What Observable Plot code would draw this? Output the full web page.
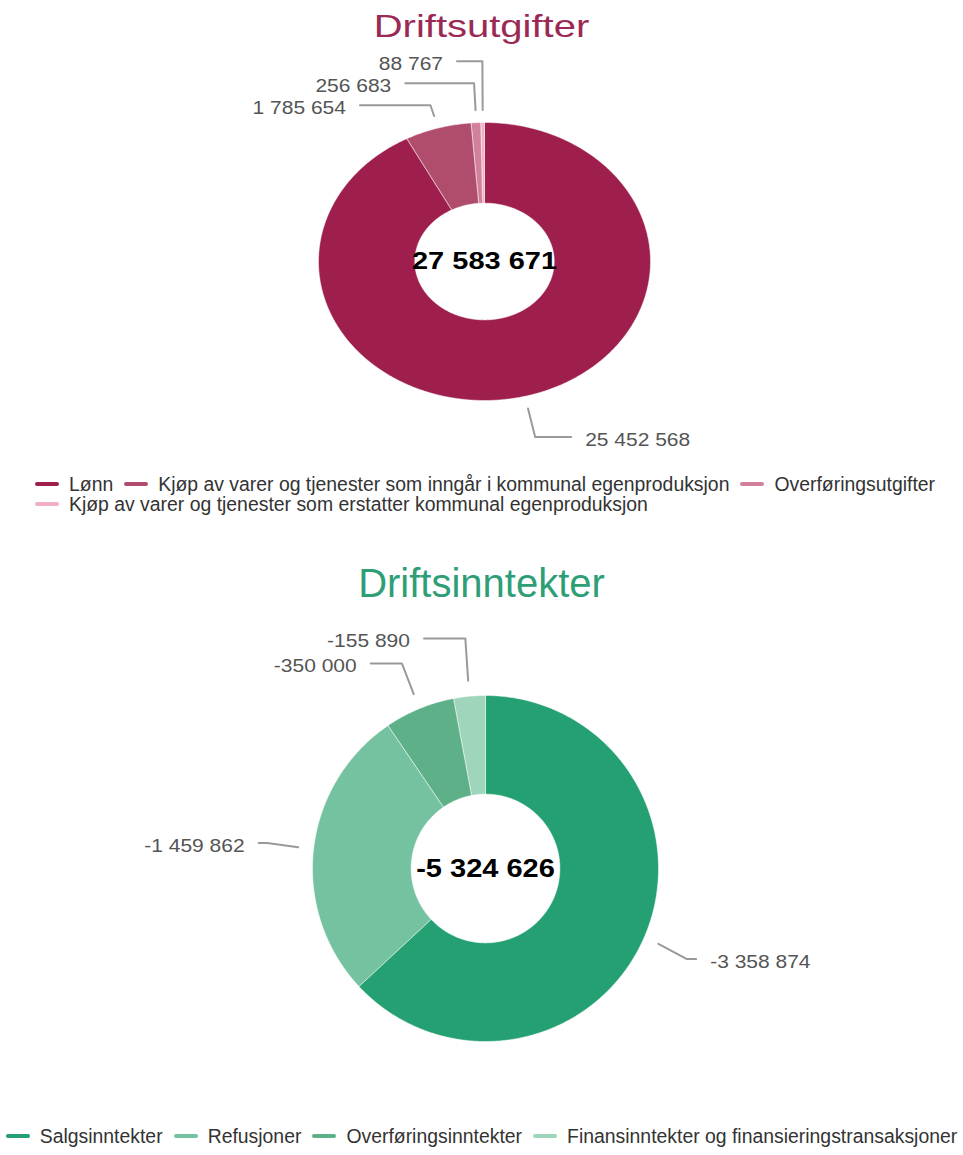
<!DOCTYPE html>
<html><head><meta charset="utf-8">
<script src="https://cdn.jsdelivr.net/npm/d3@7"></script>
<script src="https://cdn.jsdelivr.net/npm/@observablehq/plot@0.6"></script>
<style>
body{margin:0;background:#fff;font-family:"Liberation Sans",Arial,sans-serif;}
#page{position:relative;width:963px;height:1155px;overflow:hidden;background:#fff;}
.title{position:absolute;left:0;width:963px;text-align:center;font-size:40px;line-height:40px;white-space:nowrap;}
.chart{position:absolute;left:0;}
.legend{position:absolute;display:flex;font-size:19.4px;line-height:20px;color:#333;}
.item{display:flex;align-items:center;margin-right:11px;white-space:nowrap;}
.item:last-child{margin-right:0;}
.sw{width:24px;height:4px;border-radius:2px;margin-right:10px;flex:none;}
</style></head><body><div id="page"></div>
<script>
// ---------- data ----------
const expenseTitle = "Driftsutgifter";
const expenseCategories = ["Lønn", "Kjøp av varer og tjenester som inngår i kommunal egenproduksjon", "Overføringsutgifter", "Kjøp av varer og tjenester som erstatter kommunal egenproduksjon"];
const expenseValues = [25452568, 1785654, 256683, 88767];
const expenseTotal = 27583671;
const expenseColors = ["#9e1f4d", "#b04d6d", "#d2819d", "#f2b0c6"];

const incomeTitle = "Driftsinntekter";
const incomeCategories = ["Salgsinntekter", "Refusjoner", "Overføringsinntekter", "Finansinntekter og finansieringstransaksjoner"];
const incomeValues = [-3358874, -1459862, -350000, -155890];
const incomeTotal = -5324626;
const incomeColors = ["#24a072", "#74c29f", "#5eb089", "#9fd5ba"];

// ---------- helpers ----------
const fmt = d3.formatLocale({decimal: ",", thousands: " ", grouping: [3], currency: ["", ""], minus: "-"}).format(",d");
const page = document.getElementById("page");

function donut(o) {
  const {categories, values, colors, total, width, height, cx, cy, rx, ry, inner,
         labelR, textR, minDx, gapPx, labelSize, centerSize, textScaleY} = o;
  const sum = d3.sum(values, v => Math.abs(v));
  let acc = 0;
  const slices = categories.map((c, i) => {
    const a0 = acc / sum * 2 * Math.PI; acc += Math.abs(values[i]);
    const a1 = acc / sum * 2 * Math.PI;
    return {category: c, value: values[i], color: colors[i], a0, a1, mid: (a0 + a1) / 2};
  });
  const pt = (a, r) => [r * Math.sin(a), -r * Math.cos(a)];
  const polys = [];
  for (const s of slices) {
    const n = Math.max(2, Math.ceil((s.a1 - s.a0) / (Math.PI / 360)));
    for (let k = 0; k <= n; k++) { const [x, y] = pt(s.a0 + (s.a1 - s.a0) * k / n, 1); polys.push({key: s.category, color: s.color, x, y}); }
    for (let k = n; k >= 0; k--) { const [x, y] = pt(s.a0 + (s.a1 - s.a0) * k / n, inner); polys.push({key: s.category, color: s.color, x, y}); }
  }
  const labels = slices.map(s => ({...s, side: Math.sin(s.mid) >= 0 ? 1 : -1, y: -Math.cos(s.mid) * labelR}));
  const gap = gapPx / ry;
  for (const side of [1, -1]) {
    const L = labels.filter(l => l.side === side).sort((a, b) => a.y - b.y);
    for (let it = 0; it < 500; it++) {
      let moved = false;
      for (let i = 1; i < L.length; i++) {
        const ov = L[i - 1].y + gap - L[i].y;
        if (ov > 1e-6) { L[i - 1].y -= ov / 2; L[i].y += ov / 2; moved = true; }
      }
      if (!moved) break;
    }
  }
  const anchorR = 1.09, elbowMax = 1.27;
  const lines = [];
  for (const l of labels) {
    const [ax, ay] = pt(l.mid, anchorR);
    const c = -Math.cos(l.mid);
    let re = Math.abs(c) > 1e-3 ? l.y / c : elbowMax;
    if (!(re > anchorR + 0.03)) re = anchorR + 0.03;
    re = Math.min(re, elbowMax);
    const ex = re * Math.sin(l.mid);
    let tx = l.side * Math.max(minDx, Math.sqrt(Math.max(0, textR * textR - l.y * l.y)));
    let endX = tx - l.side * 14 / rx;
    if (l.side * (endX - ex) < 8 / rx) { endX = ex + l.side * 8 / rx; tx = endX + l.side * 14 / rx; }
    l.tx = tx;
    lines.push({key: l.category, x: ax, y: ay}, {key: l.category, x: ex, y: l.y}, {key: l.category, x: endX, y: l.y});
  }
  const labelStyle = {x: "tx", y: "y", text: d => fmt(d.value), fontSize: labelSize, fill: "#555", dy: 3};
  const svg = Plot.plot({
    width, height, margin: 0,
    x: {domain: [-cx / rx, (width - cx) / rx], range: [0, width], axis: null},
    y: {domain: [-cy / ry, (height - cy) / ry], range: [0, height], axis: null},
    color: {type: "identity"},
    style: {fontFamily: "'Liberation Sans', Arial, sans-serif", background: "transparent"},
    marks: [
      Plot.line(polys, {x: "x", y: "y", z: "key", fill: "color", stroke: "white", strokeWidth: 0.5, curve: "linear-closed"}),
      Plot.line(lines, {x: "x", y: "y", z: "key", stroke: "#9a9a9a", strokeWidth: 2}),
      Plot.text(labels.filter(l => l.side > 0), {...labelStyle, textAnchor: "start"}),
      Plot.text(labels.filter(l => l.side < 0), {...labelStyle, textAnchor: "end"}),
      Plot.text([total], {x: () => 0, y: () => 0, text: d => fmt(d), fontSize: centerSize, fontWeight: "bold", fill: "#000"})
    ]
  });
  svg.querySelectorAll("text").forEach(t => {
    const tr = t.getAttribute("transform");
    if (tr) t.setAttribute("transform", tr + ` scale(1,${textScaleY})`);
    else {
      const x = +t.getAttribute("x") || 0, y = +t.getAttribute("y") || 0;
      t.setAttribute("transform", `translate(${x},${y}) scale(1,${textScaleY}) translate(${-x},${-y})`);
    }
  });
  return svg;
}

function addTitle(text, top, color, scaleY) {
  const d = document.createElement("div");
  d.className = "title"; d.textContent = text;
  d.style.top = top + "px"; d.style.color = color;
  d.style.transformOrigin = "50% 34px";
  d.style.transform = `scale(1,${scaleY})`;
  page.appendChild(d);
}
function addLegend(cats, cols, style) {
  const d = document.createElement("div");
  d.className = "legend";
  Object.assign(d.style, style);
  cats.forEach((c, i) => {
    const it = document.createElement("div"); it.className = "item";
    const sw = document.createElement("span"); sw.className = "sw"; sw.style.background = cols[i];
    const tx = document.createElement("span"); tx.textContent = c;
    it.appendChild(sw); it.appendChild(tx); d.appendChild(it);
  });
  page.appendChild(d);
}
function addChart(svg, top) {
  const d = document.createElement("div"); d.className = "chart"; d.style.top = top + "px";
  d.appendChild(svg); page.appendChild(d);
}

// ---------- chart 1 ----------
addTitle(expenseTitle, 3, "#9a2a55", 0.8);
addChart(donut({categories: expenseCategories, values: expenseValues, colors: expenseColors, total: expenseTotal,
  width: 963, height: 425, cx: 484, cy: 216, rx: 166, ry: 139, inner: 0.42,
  labelR: 1.3, textR: 1.4, minDx: 0.25, gapPx: 22, labelSize: 21, centerSize: 29, textScaleY: 0.84}), 45);
addLegend(expenseCategories, expenseColors, {left: "35px", top: "474px", width: "925px", flexWrap: "wrap"});

// ---------- chart 2 ----------
addTitle(incomeTitle, 563, "#2e9e77", 1);
addChart(donut({categories: incomeCategories, values: incomeValues, colors: incomeColors, total: incomeTotal,
  width: 963, height: 480, cx: 485, cy: 268, rx: 173, ry: 173, inner: 0.43,
  labelR: 1.31, textR: 1.4, minDx: 0.25, gapPx: 25, labelSize: 21, centerSize: 29, textScaleY: 0.87}), 600);
addLegend(incomeCategories, incomeColors, {left: "0px", top: "1126px", width: "963px", flexWrap: "nowrap", justifyContent: "center"});
</script></body></html>
